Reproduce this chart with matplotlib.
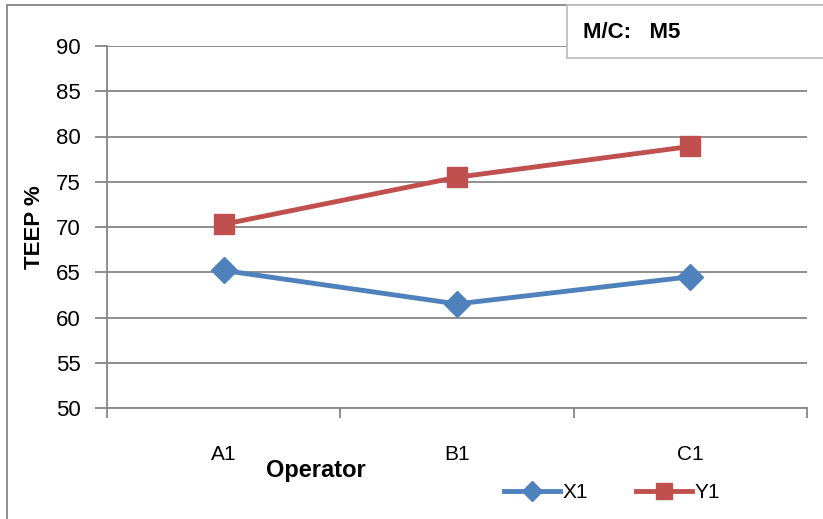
import numpy as np
import matplotlib
matplotlib.use('Agg')
import matplotlib.pyplot as plt
from matplotlib.lines import Line2D
from matplotlib.patches import Rectangle

operators = ['A1', 'B1', 'C1']
x1_vals = [65.2, 61.5, 64.5]
y1_vals = [70.3, 75.5, 78.9]
yticks = [50, 55, 60, 65, 70, 75, 80, 85, 90]

W, H = 823, 519
fig = plt.figure(figsize=(W / 100, H / 100), dpi=100)
plt.rcParams['font.family'] = ['Liberation Sans', 'DejaVu Sans']

# plot area in pixels: x 107..807, y 46..408
ax = fig.add_axes([107 / W, 1 - 408 / H, 700 / W, 362 / H])
grey = '#868686'

x = np.arange(len(operators))
ax.set_xlim(-0.5, len(operators) - 0.5)
ax.set_ylim(50, 90)
ax.set_yticks(yticks)
ax.yaxis.grid(True, color=grey, linewidth=1.3)
ax.set_axisbelow(True)

ax.plot(x, x1_vals, color='#4F81BD', linewidth=3.5, marker='D', markersize=13,
        solid_capstyle='round', zorder=3)
ax.plot(x, y1_vals, color='#C0504D', linewidth=3.5, marker='s', markersize=15,
        solid_capstyle='round', zorder=3)

for side in ['top', 'right']:
    ax.spines[side].set_visible(False)
for side in ['left', 'bottom']:
    ax.spines[side].set_color(grey)
    ax.spines[side].set_linewidth(1.3)

ax.set_xticks(np.arange(len(operators) + 1) - 0.5)
ax.set_xticklabels([])
ax.set_xticks(x, minor=True)
ax.set_xticklabels(operators, minor=True, fontsize=15)
ax.tick_params(axis='x', which='major', length=7, width=1.3, color=grey, direction='out')
ax.tick_params(axis='x', which='minor', length=0, pad=27)
ax.tick_params(axis='y', length=9, width=1.3, color=grey, direction='out', labelsize=16, pad=10)

fig.text(35 / W, 1 - 227 / H, 'TEEP %', rotation=90, fontsize=16, fontweight='bold',
         ha='center', va='center')
fig.text(316 / W, 1 - 470 / H, 'Operator', fontsize=17, fontweight='bold',
         ha='center', va='center')

# outer chart border (right and bottom fall outside the image)
fig.patches.append(Rectangle((7 / W, -0.1), 1.2, 1 - 5 / H + 0.1, transform=fig.transFigure,
                             fill=False, edgecolor=grey, linewidth=1.3))
# M/C box
fig.patches.append(Rectangle((567 / W, 1 - 58 / H), 1.0, 53 / H, transform=fig.transFigure,
                             facecolor='white', edgecolor='#BFBFBF', linewidth=1.3, zorder=5))
fig.text(583 / W, 1 - 32 / H, 'M/C:   M5', fontsize=16, fontweight='bold',
         ha='left', va='center', zorder=6)

handles = [Line2D([], [], color='#4F81BD', linewidth=3.5, marker='D', markersize=10),
           Line2D([], [], color='#C0504D', linewidth=3.5, marker='s', markersize=12)]
fig.legend(handles, ['X1', 'Y1'], loc='center', bbox_to_anchor=(612 / W, 1 - 493 / H),
           ncol=2, frameon=False, fontsize=15, handlelength=2.7, handletextpad=0.1,
           columnspacing=2.3)

fig.savefig('out.png', dpi=100)
